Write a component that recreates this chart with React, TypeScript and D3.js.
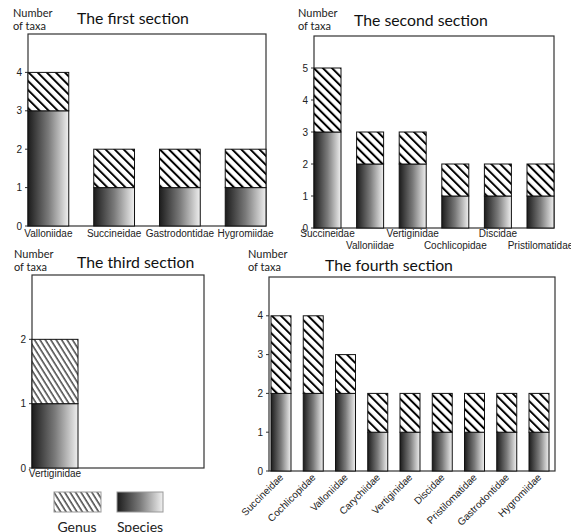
import React from "react";
import * as d3 from "d3";

// ---- data ----
const cats1 = ["Valloniidae", "Succineidae", "Gastrodontidae", "Hygromiidae"];
const species1 = [3, 1, 1, 1];
const genus1 = [1, 1, 1, 1];
const ticks1 = [0, 1, 2, 3, 4];

const cats2 = ["Succineidae", "Valloniidae", "Vertiginidae", "Cochlicopidae", "Discidae", "Pristilomatidae"];
const species2 = [3, 2, 2, 1, 1, 1];
const genus2 = [2, 1, 1, 1, 1, 1];
const ticks2 = [0, 1, 2, 3, 4, 5];

const cats3 = ["Vertiginidae"];
const species3 = [1];
const genus3 = [1];
const ticks3 = [0, 1, 2];

const cats4 = ["Succineidae", "Cochlicopidae", "Valloniidae", "Carychiidae", "Vertiginidae", "Discidae", "Pristilomatidae", "Gastrodontidae", "Hygromiidae"];
const species4 = [2, 2, 2, 1, 1, 1, 1, 1, 1];
const genus4 = [2, 2, 1, 1, 1, 1, 1, 1, 1];
const ticks4 = [0, 1, 2, 3, 4];

const titles = ["The first section", "The second section", "The third section", "The fourth section"];
const legendLabels = ["Genus", "Species"];

const TITLE_FONT = "Lato, 'Open Sans', sans-serif";
const AXIS_FONT = "'Liberation Sans', Arial, sans-serif";

type PanelProps = {
  cats: string[];
  species: number[];
  genus: number[];
  ticks: number[];
  yMax: number;
  frame: { left: number; right: number; top: number; bottom: number };
  barRange: [number, number];
  paddingInner: number;
  title: string;
  titleX: number;
  titleY: number;
  nameX: number;
  nameY: number;
  hatch: string;
  labelMode: "flat" | "stagger" | "rotate";
  labelY: number;
};

function Panel(p: PanelProps) {
  const x = d3.scaleBand<string>().domain(p.cats).range(p.barRange).paddingInner(p.paddingInner).paddingOuter(0);
  const y = d3.scaleLinear().domain([0, p.yMax]).range([p.frame.bottom, p.frame.top]);
  const bw = x.bandwidth();
  return (
    <g>
      <text x={p.nameX} y={p.nameY} fontFamily={TITLE_FONT} fontSize={11} fill="#222">Number</text>
      <text x={p.nameX} y={p.nameY + 13} fontFamily={TITLE_FONT} fontSize={11} fill="#222">of taxa</text>
      <text x={p.titleX} y={p.titleY} fontFamily={TITLE_FONT} fontSize={15.8} fill="#111">{p.title}</text>
      <rect x={p.frame.left} y={p.frame.top} width={p.frame.right - p.frame.left} height={p.frame.bottom - p.frame.top}
        fill="none" stroke="#333" strokeWidth={1.2} />
      {p.ticks.map((t) => (
        <g key={t}>
          <line x1={p.frame.left - 3} x2={p.frame.left} y1={y(t)} y2={y(t)} stroke="#333" strokeWidth={1} />
          <text x={p.frame.left - 6} y={y(t)} dy="0.35em" textAnchor="end" fontFamily={AXIS_FONT} fontSize={10} fill="#222">{t}</text>
        </g>
      ))}
      {p.cats.map((c, i) => {
        const x0 = x(c)!;
        const s = p.species[i];
        const g = p.genus[i];
        return (
          <g key={c}>
            <rect x={x0} y={y(s)} width={bw} height={y(0) - y(s)} fill="url(#grad)" stroke="#111" strokeWidth={1} />
            <rect x={x0} y={y(s + g)} width={bw} height={y(s) - y(s + g)} fill={`url(#${p.hatch})`} stroke="#111" strokeWidth={1} />
          </g>
        );
      })}
      {p.cats.map((c, i) => {
        const cx = x(c)! + bw / 2;
        if (p.labelMode === "rotate") {
          return (
            <text key={c} transform={`translate(${cx + 3},${p.labelY}) rotate(-45)`} textAnchor="end"
              fontFamily={AXIS_FONT} fontSize={10} fill="#222">{c}</text>
          );
        }
        const ly = p.labelMode === "stagger" && i % 2 === 1 ? p.labelY + 12 : p.labelY;
        return (
          <text key={c} x={cx} y={ly} textAnchor="middle" fontFamily={AXIS_FONT} fontSize={10} fill="#222">{c}</text>
        );
      })}
    </g>
  );
}

export default function App() {
  return (
    <svg width={571} height={532} style={{ position: "absolute", left: 0, top: 0, background: "#fff" }}>
      <defs>
        <linearGradient id="grad" x1="0" x2="1" y1="0" y2="0">
          <stop offset="0" stopColor="#1c1c1c" />
          <stop offset="0.5" stopColor="#7a7a7a" />
          <stop offset="1" stopColor="#f0f0f0" />
        </linearGradient>
        <pattern id="hatchA" patternUnits="userSpaceOnUse" width={6.4} height={6.4} patternTransform="rotate(-45)">
          <rect width={6.4} height={6.4} fill="#fff" />
          <line x1={1} y1={0} x2={1} y2={6.4} stroke="#000" strokeWidth={2} />
        </pattern>
        <pattern id="hatchB" patternUnits="userSpaceOnUse" width={4.6} height={4.6} patternTransform="rotate(-32)">
          <rect width={4.6} height={4.6} fill="#fff" />
          <line x1={1} y1={0} x2={1} y2={4.6} stroke="#000" strokeWidth={1.1} />
        </pattern>
      </defs>
      <rect width={571} height={532} fill="#fff" />

      <Panel cats={cats1} species={species1} genus={genus1} ticks={ticks1} yMax={5}
        frame={{ left: 28, right: 266, top: 34, bottom: 226 }} barRange={[28, 266]} paddingInner={0.38}
        title={titles[0]} titleX={77} titleY={24} nameX={13} nameY={17} hatch="hatchA" labelMode="flat" labelY={237} />

      <Panel cats={cats2} species={species2} genus={genus2} ticks={ticks2} yMax={6}
        frame={{ left: 314, right: 554, top: 36, bottom: 228 }} barRange={[314, 554]} paddingInner={0.366}
        title={titles[1]} titleX={354} titleY={26} nameX={298} nameY={17} hatch="hatchA" labelMode="stagger" labelY={237} />

      <Panel cats={cats3} species={species3} genus={genus3} ticks={ticks3} yMax={3}
        frame={{ left: 32, right: 204, top: 275, bottom: 468 }} barRange={[32, 78]} paddingInner={0}
        title={titles[2]} titleX={77} titleY={268} nameX={14} nameY={258} hatch="hatchB" labelMode="flat" labelY={477} />

      <Panel cats={cats4} species={species4} genus={genus4} ticks={ticks4} yMax={5}
        frame={{ left: 269, right: 555, top: 277, bottom: 471 }} barRange={[271, 549]} paddingInner={0.38}
        title={titles[3]} titleX={325} titleY={271} nameX={248} nameY={258} hatch="hatchA" labelMode="rotate" labelY={478} />

      {/* legend */}
      <rect x={54} y={492} width={47} height={20} fill="url(#hatchB)" stroke="#999" strokeWidth={1} />
      <rect x={117} y={492} width={46} height={20} fill="url(#grad)" stroke="#999" strokeWidth={1} />
      <text x={77} y={532} textAnchor="middle" fontFamily={TITLE_FONT} fontSize={14} fill="#222">{legendLabels[0]}</text>
      <text x={140} y={532} textAnchor="middle" fontFamily={TITLE_FONT} fontSize={14} fill="#222">{legendLabels[1]}</text>
    </svg>
  );
}
